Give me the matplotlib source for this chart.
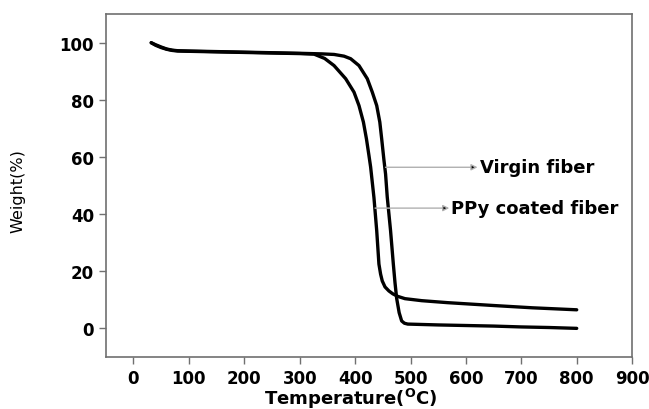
import numpy as np
import matplotlib.pyplot as plt

plt.rcParams['font.family'] = ['DejaVu Sans']
plt.rcParams['font.weight'] = 'bold'

# Virgin fiber TGA curve
virgin_t = [32, 40, 50, 60, 70, 80, 100, 150, 200, 250, 300, 340, 362, 380, 392,
            407, 422, 431, 439, 444.6, 448, 452, 455, 458, 464, 469, 472, 475,
            479.5, 484, 489, 495, 550, 600, 650, 700, 750, 800]
virgin_w = [100, 99.3, 98.5, 97.8, 97.4, 97.2, 97.1, 96.9, 96.7, 96.5, 96.3, 96.1, 95.9,
            95.3, 94.4, 92, 87.4, 82.7, 78, 72.2, 66.3, 59, 54, 46, 34.2, 22.5, 16,
            10.5, 5.5, 2.6, 1.8, 1.5, 1.2, 1.0, 0.8, 0.5, 0.3, 0.0]

# PPy coated fiber TGA curve
ppy_t = [32, 40, 50, 60, 70, 80, 100, 150, 200, 250, 300, 326, 345, 362, 383, 398,
         407, 415, 420.5, 425, 428, 434, 439, 443, 446, 449, 454, 461, 468, 477,
         490, 520, 567, 650, 720, 800]
ppy_w = [100, 99.1, 98.3, 97.7, 97.3, 97.1, 97.0, 96.8, 96.6, 96.4, 96.2, 96.0, 94.5,
         92, 87.4, 82.7, 78, 72.2, 66.3, 60.5, 56.5, 45.8, 34.2, 22.5, 19, 16.6,
         14.5, 13.1, 12.1, 11.2, 10.4, 9.7, 9.0, 8.0, 7.2, 6.5]

x_ticks = [0, 100, 200, 300, 400, 500, 600, 700, 800, 900]
y_ticks = [0, 20, 40, 60, 80, 100]

fig = plt.figure(figsize=(6.49, 4.10), dpi=100)
ax = fig.add_axes([0.163, 0.127, 0.811, 0.836])

ax.plot(virgin_t, virgin_w, color='black', lw=2.4, solid_capstyle='round')
ax.plot(ppy_t, ppy_w, color='black', lw=2.4, solid_capstyle='round')

# label arrows: light grey shaft, black head
arrow = dict(arrowstyle='-|>', fc='black', ec='#b0b0b0', lw=1.0, mutation_scale=9,
             shrinkA=0, shrinkB=0)
ax.annotate('', xy=(621, 56.4), xytext=(455, 56.4), arrowprops=arrow)
ax.annotate('', xy=(570, 42.1), xytext=(436, 42.1), arrowprops=arrow)
ax.text(625, 56.4, 'Virgin fiber', fontsize=13, fontweight='bold', va='center')
ax.text(573, 42.1, 'PPy coated fiber', fontsize=13, fontweight='bold', va='center')

ax.set_xlim(-50, 900)
ax.set_ylim(-10, 110)
ax.set_xticks(x_ticks)
ax.set_yticks(y_ticks)
ax.tick_params(labelsize=12, length=5, width=1, color='#707070')
for lbl in ax.get_xticklabels() + ax.get_yticklabels():
    lbl.set_fontweight('bold')
for sp in ax.spines.values():
    sp.set_color('#707070')
    sp.set_linewidth(1.2)

ax.set_xlabel('Temperature($\\mathbf{^{O}}$C)', fontsize=13, fontweight='bold')
ax.set_ylabel('Weight(%)', fontsize=11.5, fontweight='normal')
ax.xaxis.set_label_coords(0.466, -0.085)
ax.yaxis.set_label_coords(-0.152, 0.487)

fig.savefig('out.png', dpi=100)
